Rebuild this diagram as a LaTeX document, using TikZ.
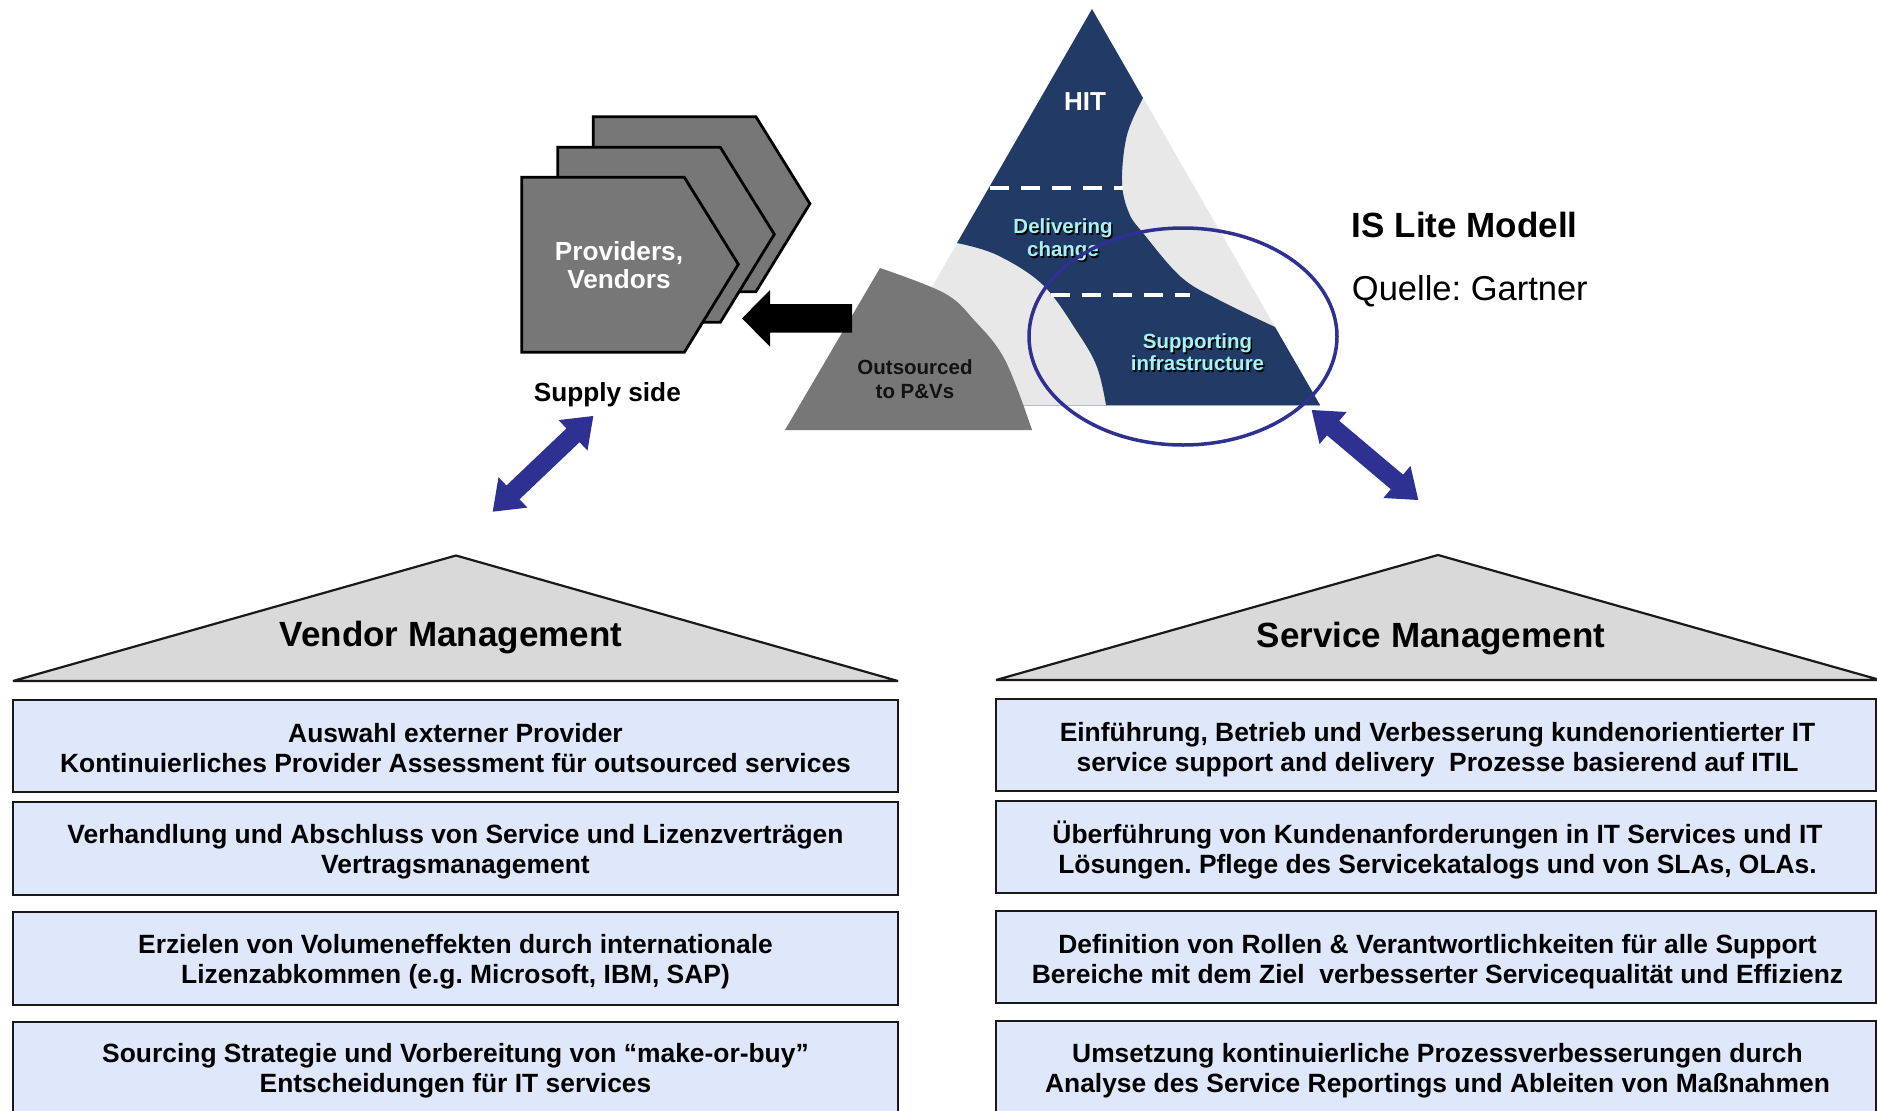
\documentclass[tikz,border=0pt]{standalone}
\usepackage{fontspec}
\setmainfont{Liberation Sans}
\usetikzlibrary{calc}
\frenchspacing
\definecolor{navy}{HTML}{213A66}
\definecolor{lgray}{HTML}{E8E8E8}
\definecolor{mgray}{HTML}{777777}
\definecolor{ablue}{HTML}{2E3192}
\definecolor{boxfill}{HTML}{DFE7FB}
\definecolor{rooffill}{HTML}{D9D9D9}
\definecolor{cyantext}{HTML}{A6F2F2}
\definecolor{baseln}{HTML}{B4BCCC}
\tikzset{
  hexshape/.style={fill=mgray, draw=black, line width=2.8pt, line join=miter},
  vboxstyle/.style={rectangle, draw=black!90, line width=2.2pt, fill=boxfill, inner sep=0pt},
  roof/.style={fill=rooffill, draw=black!90, line width=2.2pt, line join=bevel},
  boxtext/.style={font=\bfseries\fontsize{26.4}{30}\selectfont, anchor=base, inner sep=0pt},
  headtext/.style={font=\bfseries\fontsize{35}{40}\selectfont, anchor=base, inner sep=0pt},
  hextext/.style={font=\bfseries\fontsize{26.2}{30}\selectfont, anchor=base, inner sep=0pt, text=white},
  tritext/.style={font=\bfseries\fontsize{20.5}{23}\selectfont, anchor=base, inner sep=0pt},
  dashline/.style={white, line width=3.5pt, dash pattern=on 18.5pt off 12.5pt},
}
\newcommand{\hexat}[2]{\filldraw[hexshape] (#1,#2) -- ++(162.6,0) -- ++(54,87) -- ++(-54,88) -- ++(-162.6,0) -- cycle;}
\newcommand{\bluedouble}[3]{%
  \coordinate (#1s) at #2; \coordinate (#1e) at #3;
  \coordinate (#1hs) at ($(#1s)!28pt!(#1e)$);
  \coordinate (#1he) at ($(#1e)!28pt!(#1s)$);
  \fill[ablue] (#1s) -- ($(#1hs)!21pt!90:(#1e)$) -- ($(#1hs)!9.5pt!90:(#1e)$)
    -- ($(#1he)!9.5pt!-90:(#1s)$) -- ($(#1he)!21pt!-90:(#1s)$) -- (#1e)
    -- ($(#1he)!21pt!90:(#1s)$) -- ($(#1he)!9.5pt!90:(#1s)$)
    -- ($(#1hs)!9.5pt!-90:(#1e)$) -- ($(#1hs)!21pt!-90:(#1e)$) -- cycle;}
\newcommand{\shadowtext}[4]{%
  \node[tritext, text=black] at ($(#2,#3)+(1.5,1.5)$) {#4};
  \node[tritext, text=cyantext] (#1) at (#2,#3) {#4};}
\begin{document}
\begin{tikzpicture}[x=1pt,y=-1pt]
\useasboundingbox (0,0) rectangle (1877,1111);
\fill[white] (0,0) rectangle (1877,1111);
\clip (0,0) rectangle (1877,1111);

% --- providers / vendors stack
\hexat{593.3}{116.7}
\hexat{557.7}{147.3}
\hexat{521.7}{177.3}
\node[hextext] (pv1) at (619,260) {Providers,};
\node[hextext] (pv2) at (619,288.3) {Vendors};
\node[font=\bfseries\fontsize{26.2}{30}\selectfont, anchor=base, inner sep=0pt] (supply) at (607.3,401.7) {Supply side};

% --- IS Lite pyramid
\coordinate (apex) at (1092,9);
\coordinate (bl) at (864,405);
\coordinate (br) at (1320,405);
\fill[lgray] (apex) -- (br) -- (bl) -- cycle;
\draw[baseln, line width=1pt] (1000,405) -- (br);
\fill[navy] (957,243) -- (apex)
  -- plot[smooth, tension=0.6] coordinates {(1143,98) (1127,135) (1122,182) (1129,213) (1143,233) (1181,277) (1219,300) (1275,327)}
  -- (br) -- (1106,405)
  -- plot[smooth, tension=0.6] coordinates {(1106,405) (1097,367) (1078,333) (1043,285) (997,255) (957,243)}
  -- cycle;
\draw[dashline] (990,188) -- (1123,188);
\draw[dashline] (1051,295) -- (1190,295);

% outsourced part
\fill[mgray] (785,430) -- plot[smooth, tension=0.6] coordinates {(880,268) (944,293) (974,320) (1005,360) (1032,430)} -- cycle;

% black arrow to providers
\coordinate (blktip) at (742,318.35);
\fill[black] (blktip) -- (770,290) -- (770,304) -- (852,304) -- (852,332.7) -- (770,332.7) -- (770,346.7) -- cycle;

% pyramid texts
\node[tritext, font=\bfseries\fontsize{26}{30}\selectfont, text=white] (hit) at (1085,110) {HIT};
\shadowtext{dc1}{1063}{233.5}{Delivering}
\shadowtext{dc2}{1063}{256.5}{change}
\shadowtext{si1}{1197.5}{348.5}{Supporting}
\shadowtext{si2}{1197.5}{370.5}{infrastructure}
\node[tritext, text=black!93] (os1) at (915,374) {Outsourced};
\node[tritext, text=black!93] (os2) at (915,398) {to P\&Vs};

% focus ellipse
\draw[ablue, line width=3.5pt] (1183,336.5) ellipse [x radius=154, y radius=108.5];

% model title
\node[headtext, anchor=base west] (islite) at (1351.7,237.3) {IS Lite Modell};
\node[font=\fontsize{34.5}{40}\selectfont, anchor=base west, inner sep=0pt] (quelle) at (1351.7,300) {Quelle: Gartner};

% blue double arrows
\bluedouble{la}{(492.7,511.7)}{(593.3,416)}
\bluedouble{ra}{(1311.7,410)}{(1418.3,500)}

% --- Vendor Management
\filldraw[roof] (13,681) -- (456,555.5) -- (898,681) -- cycle;
\node[headtext] (vmhead) at (451,646) {Vendor Management};
\node[vboxstyle, minimum width=885pt, minimum height=92pt] (vb1) at (455.5,746) {};
\node[vboxstyle, minimum width=885pt, minimum height=93pt] (vb2) at (455.5,848.5) {};
\node[vboxstyle, minimum width=885pt, minimum height=93pt] (vb3) at (455.5,958.5) {};
\node[vboxstyle, minimum width=885pt, minimum height=110pt] (vb4) at (455.5,1077) {};
\node[boxtext] (vt1a) at (455.5,742) {Auswahl externer Provider};
\node[boxtext] (vt1b) at (455.5,772) {Kontinuierliches Provider Assessment für outsourced services};
\node[boxtext] (vt2a) at (455.5,843.5) {Verhandlung und Abschluss von Service und Lizenzverträgen};
\node[boxtext] (vt2b) at (455.5,873.5) {Vertragsmanagement};
\node[boxtext] (vt3a) at (455.5,953.5) {Erzielen von Volumeneffekten durch internationale};
\node[boxtext] (vt3b) at (455.5,983.5) {Lizenzabkommen (e.g. Microsoft, IBM, SAP)};
\node[boxtext] (vt4a) at (455.5,1062.5) {Sourcing Strategie und Vorbereitung von “make-or-buy”};
\node[boxtext] (vt4b) at (455.5,1092.5) {Entscheidungen für IT services};

% --- Service Management
\filldraw[roof] (996,680) -- (1438,555) -- (1880,680) -- cycle;
\node[headtext] (smhead) at (1431,647.5) {Service Management};
\node[vboxstyle, minimum width=880pt, minimum height=92pt] (sb1) at (1436,745) {};
\node[vboxstyle, minimum width=880pt, minimum height=92pt] (sb2) at (1436,847) {};
\node[vboxstyle, minimum width=880pt, minimum height=92pt] (sb3) at (1436,957) {};
\node[vboxstyle, minimum width=880pt, minimum height=110pt] (sb4) at (1436,1076) {};
\node[boxtext] (st1a) at (1437.5,741.5) {Einführung, Betrieb und Verbesserung kundenorientierter IT};
\node[boxtext] (st1b) at (1437.5,771.5) {service support and delivery\ \ Prozesse basierend auf ITIL};
\node[boxtext] (st2a) at (1437.5,843) {Überführung von Kundenanforderungen in IT Services und IT};
\node[boxtext] (st2b) at (1437.5,873) {Lösungen. Pflege des Servicekatalogs und von SLAs, OLAs.};
\node[boxtext] (st3a) at (1437.5,953) {Definition von Rollen \& Verantwortlichkeiten für alle Support};
\node[boxtext] (st3b) at (1437.5,983) {Bereiche mit dem Ziel\ \ verbesserter Servicequalität und Effizienz};
\node[boxtext] (st4a) at (1437.5,1062) {Umsetzung kontinuierliche Prozessverbesserungen durch};
\node[boxtext] (st4b) at (1437.5,1092) {Analyse des Service Reportings und Ableiten von Maßnahmen};
\end{tikzpicture}
\end{document}
